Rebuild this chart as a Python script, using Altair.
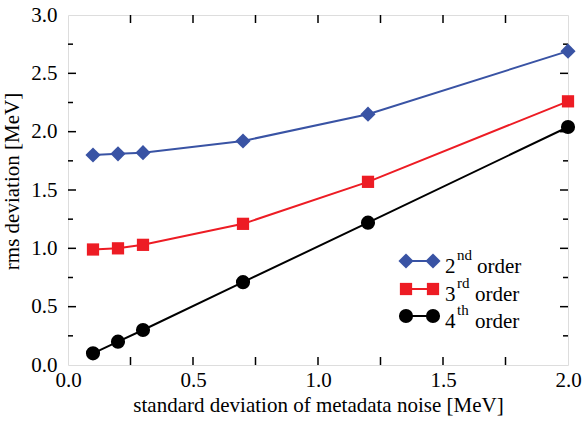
import altair as alt
import pandas as pd

# ---- data ----
x_vals = [0.1, 0.2, 0.3, 0.7, 1.2, 2.0]
second_order = [1.80, 1.81, 1.82, 1.92, 2.15, 2.69]
third_order = [0.99, 1.00, 1.03, 1.21, 1.57, 2.26]
fourth_order = [0.10, 0.20, 0.30, 0.71, 1.22, 2.04]

series_nums = ["2", "3", "4"]
series_sups = ["nd", "rd", "th"]
series_word = "order"

x_label_vals = [0.0, 0.5, 1.0, 1.5, 2.0]
y_label_vals = [0.0, 0.5, 1.0, 1.5, 2.0, 2.5, 3.0]
x_tick_vals = [0.25, 0.5, 0.75, 1.0, 1.25, 1.5, 1.75]
y_major_ticks = [0.5, 1.0, 1.5, 2.0, 2.5]
y_minor_ticks = [0.25, 0.75, 1.25, 1.75, 2.25, 2.75]

# ---- styling ----
FONT = "'Liberation Serif', 'Times New Roman', 'DejaVu Serif', serif"
FS = 21
colors = ["#3953a4", "#ed1c24", "#000000"]
shapes = ["diamond", "square", "circle"]
sizes = [230, 150, 200]
W, H = 500, 350

xs = alt.Scale(domain=[0, 2], nice=False, zero=False)
ys = alt.Scale(domain=[0, 3], nice=False, zero=False)

xaxis = alt.Axis(values=x_label_vals, format=".1f", ticks=False, domain=False, grid=False,
                 labelFlush=False, labelOverlap=False,
                 labelFont=FONT, labelFontSize=FS, labelColor="black", labelPadding=4,
                 title="standard deviation of metadata noise [MeV]", titleFont=FONT,
                 titleFontSize=FS, titleFontWeight="normal", titleColor="black", titlePadding=4)
yaxis = alt.Axis(values=y_label_vals, format=".1f", ticks=False, domain=False, grid=False,
                 labelFlush=False, labelOverlap=False,
                 labelFont=FONT, labelFontSize=FS, labelColor="black", labelPadding=11,
                 title="rms deviation [MeV]", titleFont=FONT, titleFontSize=FS,
                 titleFontWeight="normal", titleColor="black",
                 titleX=-56, titleY=166, titleAlign="center", titleBaseline="middle")

layers = []

# tick marks (inward, on all four sides)
xt = pd.DataFrame({"v": x_tick_vals})
ymaj = pd.DataFrame({"v": y_major_ticks})
ymin = pd.DataFrame({"v": y_minor_ticks})
tick_style = dict(color="black", strokeWidth=1.5)
X = alt.X("v:Q", scale=xs, axis=xaxis)
Y = alt.Y("v:Q", scale=ys, axis=yaxis)
layers.append(alt.Chart(xt).mark_rule(**tick_style).encode(x=X, y=alt.value(H), y2=alt.value(H - 8)))
layers.append(alt.Chart(xt).mark_rule(**tick_style).encode(x=X, y=alt.value(0), y2=alt.value(8)))
layers.append(alt.Chart(ymaj).mark_rule(**tick_style).encode(y=Y, x=alt.value(0), x2=alt.value(8)))
layers.append(alt.Chart(ymaj).mark_rule(**tick_style).encode(y=Y, x=alt.value(W), x2=alt.value(W - 8)))
layers.append(alt.Chart(ymin).mark_rule(**tick_style).encode(y=Y, x=alt.value(0), x2=alt.value(5)))
layers.append(alt.Chart(ymin).mark_rule(**tick_style).encode(y=Y, x=alt.value(W), x2=alt.value(W - 5)))

# data series
for vals, c, shp, sz in zip([second_order, third_order, fourth_order], colors, shapes, sizes):
    df = pd.DataFrame({"x": x_vals, "y": vals})
    enc = dict(x=alt.X("x:Q", scale=xs, axis=xaxis), y=alt.Y("y:Q", scale=ys, axis=yaxis))
    layers.append(alt.Chart(df).mark_line(color=c, strokeWidth=2).encode(**enc))
    layers.append(alt.Chart(df).mark_point(shape=shp, filled=True, size=sz, color=c,
                                           opacity=1, strokeWidth=0).encode(**enc))

# manual legend
row_y = [246, 274, 301]
sym_x1, sym_x2 = 338, 365
num_x = 377
sup_x = [389, 389, 389]
word_x = [409, 407, 407]
for i in range(3):
    one = pd.DataFrame({"n": [series_nums[i]], "s": [series_sups[i]], "w": [series_word]})
    ry = row_y[i]
    layers.append(alt.Chart(one).mark_rule(color=colors[i], strokeWidth=2).encode(
        x=alt.value(sym_x1), x2=alt.value(sym_x2), y=alt.value(ry)))
    for sx in (sym_x1, sym_x2):
        layers.append(alt.Chart(one).mark_point(shape=shapes[i], filled=True, size=sizes[i],
                                                color=colors[i], opacity=1, strokeWidth=0).encode(
            x=alt.value(sx), y=alt.value(ry)))
    layers.append(alt.Chart(one).mark_text(align="left", baseline="alphabetic", font=FONT,
                                           fontSize=FS, color="black").encode(
        x=alt.value(num_x), y=alt.value(ry + 12), text="n:N"))
    layers.append(alt.Chart(one).mark_text(align="left", baseline="alphabetic", font=FONT,
                                           fontSize=15, color="black").encode(
        x=alt.value(sup_x[i]), y=alt.value(ry - 1), text="s:N"))
    layers.append(alt.Chart(one).mark_text(align="left", baseline="alphabetic", font=FONT,
                                           fontSize=FS, color="black").encode(
        x=alt.value(word_x[i]), y=alt.value(ry + 12), text="w:N"))

chart = alt.layer(*layers).properties(
    width=W, height=H,
    autosize=alt.AutoSizeParams(type="none"),
    padding={"left": 68, "top": 15, "right": 14, "bottom": 56},
).configure_view(stroke="black", strokeWidth=2).configure(background="white")

chart.save("out.html", embed_options={"renderer": "svg", "actions": False})
